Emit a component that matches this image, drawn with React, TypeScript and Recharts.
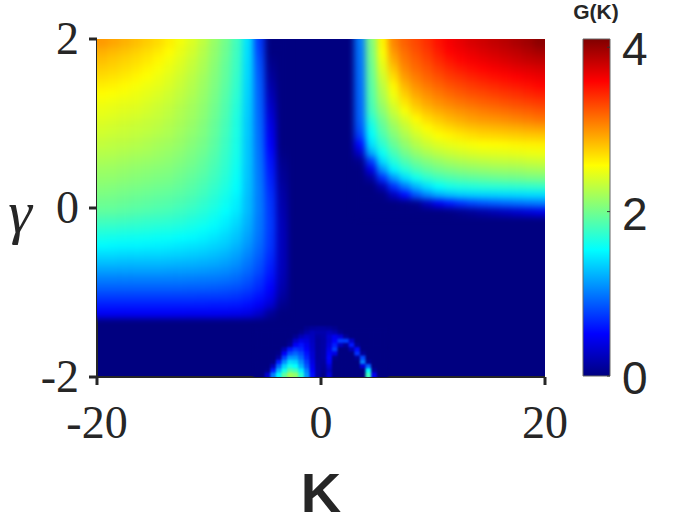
import React from 'react';
import { ScatterChart, Scatter, XAxis, YAxis, CartesianGrid, BarChart, Bar } from 'recharts';

const xTicks = [-20, 0, 20];
const yTicks = [-2, 0, 2];
const barTicks = [0, 2, 4];
const G_MAX = 4.1;

const coarseGammas = [1.95,1.85,1.75,1.65,1.55,1.45,1.35,1.25,1.15,1.05,.95,.85,.75,.65,.55,.45,.35,.25,.15,.05,-.05,-.15,-.25,-.35,-.45,-.55,-.65,-.75,-.85,-.95,-1.05,-1.15,-1.25];
const leftKs = [-19.5,-18.5,-17.5,-16.5,-15.5,-14.5,-13.5,-12.5,-11.5,-10.5,-9.5,-8.5,-7.5,-6.5,-5.5,-4.5,-3.5];
const rightKs = [3.5,4.5,5.5,6.5,7.5,8.5,9.5,10.5,11.5,12.5,13.5,14.5,15.5,16.5,17.5,18.5,19.5];

const leftBlock = [
[2.97,2.92,2.87,2.82,2.76,2.70,2.62,2.52,2.42,2.30,2.15,2.00,1.80,1.42,.75,0,0],
[2.88,2.84,2.80,2.75,2.70,2.64,2.57,2.48,2.39,2.27,2.13,1.98,1.79,1.41,.78,0,0],
[2.82,2.78,2.74,2.70,2.65,2.59,2.52,2.44,2.35,2.24,2.11,1.96,1.78,1.40,.82,.04,0],
[2.76,2.73,2.69,2.65,2.60,2.54,2.48,2.41,2.32,2.22,2.09,1.94,1.77,1.39,.85,.08,0],
[2.70,2.67,2.64,2.60,2.55,2.50,2.44,2.37,2.29,2.19,2.07,1.93,1.75,1.38,.87,.12,0],
[2.63,2.61,2.58,2.54,2.50,2.46,2.41,2.34,2.26,2.17,2.05,1.91,1.74,1.37,.89,.17,0],
[2.57,2.55,2.53,2.50,2.46,2.42,2.37,2.31,2.24,2.15,2.03,1.89,1.72,1.36,.90,.22,0],
[2.52,2.50,2.48,2.46,2.42,2.38,2.34,2.28,2.21,2.13,2.01,1.87,1.70,1.35,.91,.27,0],
[2.48,2.46,2.44,2.42,2.39,2.35,2.31,2.25,2.19,2.11,1.99,1.86,1.68,1.34,.92,.32,0],
[2.44,2.42,2.40,2.38,2.35,2.32,2.28,2.23,2.17,2.09,1.97,1.84,1.66,1.33,.93,.37,0],
[2.40,2.38,2.36,2.34,2.32,2.29,2.25,2.20,2.14,2.06,1.95,1.82,1.65,1.32,.94,.42,0],
[2.36,2.34,2.33,2.31,2.28,2.25,2.22,2.17,2.11,2.04,1.93,1.80,1.64,1.32,.95,.46,0],
[2.32,2.30,2.29,2.27,2.24,2.21,2.18,2.14,2.08,2.01,1.91,1.78,1.63,1.31,.96,.50,0],
[2.27,2.26,2.24,2.22,2.20,2.17,2.14,2.10,2.04,1.98,1.88,1.76,1.62,1.31,.97,.54,.02],
[2.22,2.21,2.19,2.17,2.15,2.13,2.10,2.06,2.01,1.94,1.85,1.74,1.60,1.31,.98,.58,.05],
[2.17,2.16,2.14,2.12,2.10,2.08,2.06,2.02,1.97,1.91,1.82,1.72,1.58,1.30,.99,.61,.08],
[2.13,2.12,2.10,2.08,2.06,2.04,2.02,1.98,1.93,1.87,1.79,1.69,1.56,1.30,1.00,.64,.10],
[2.08,2.07,2.05,2.03,2.01,1.99,1.97,1.94,1.89,1.83,1.75,1.66,1.54,1.29,1.01,.67,.13],
[2.03,2.02,2.00,1.98,1.96,1.94,1.92,1.89,1.85,1.79,1.71,1.62,1.51,1.28,1.01,.70,.16],
[1.98,1.97,1.95,1.93,1.91,1.89,1.87,1.84,1.80,1.74,1.67,1.58,1.48,1.27,1.01,.72,.18],
[1.92,1.91,1.89,1.87,1.85,1.83,1.81,1.78,1.74,1.69,1.62,1.54,1.45,1.26,1.01,.73,.20],
[1.82,1.81,1.80,1.78,1.76,1.75,1.73,1.71,1.67,1.63,1.57,1.49,1.40,1.23,1.00,.74,.22],
[1.72,1.71,1.70,1.69,1.68,1.66,1.65,1.63,1.60,1.56,1.51,1.44,1.35,1.20,.99,.74,.23],
[1.62,1.61,1.60,1.59,1.58,1.57,1.56,1.54,1.52,1.49,1.44,1.38,1.30,1.16,.97,.73,.24],
[1.52,1.51,1.50,1.50,1.49,1.48,1.47,1.45,1.43,1.41,1.37,1.32,1.24,1.11,.94,.72,.24],
[1.40,1.40,1.39,1.39,1.38,1.38,1.37,1.36,1.34,1.32,1.29,1.24,1.17,1.05,.90,.69,.24],
[1.28,1.28,1.27,1.27,1.27,1.27,1.26,1.25,1.24,1.22,1.20,1.16,1.10,.99,.85,.65,.24],
[1.15,1.15,1.15,1.15,1.15,1.15,1.14,1.14,1.13,1.12,1.10,1.07,1.02,.93,.80,.61,.23],
[1.02,1.02,1.02,1.02,1.02,1.02,1.02,1.02,1.01,1.00,.99,.97,.93,.85,.73,.56,.21],
[.90,.90,.90,.90,.90,.90,.90,.90,.89,.89,.88,.86,.83,.77,.67,.51,.18],
[.76,.76,.76,.76,.76,.76,.76,.76,.76,.75,.75,.74,.72,.67,.58,.44,.13],
[.62,.62,.62,.62,.62,.62,.62,.62,.62,.62,.61,.61,.60,.56,.48,.33,.06],
[.48,.48,.48,.48,.48,.48,.48,.48,.47,.47,.47,.46,.45,.41,.30,.10,0],
];

const rightBlock = [
[1.00,2.05,2.60,3.05,3.20,3.30,3.40,3.52,3.62,3.68,3.74,3.78,3.83,3.87,3.92,3.97,4.05],
[.98,2.02,2.55,2.98,3.15,3.26,3.36,3.48,3.58,3.63,3.68,3.73,3.77,3.81,3.85,3.90,3.95],
[.97,1.99,2.50,2.90,3.10,3.21,3.31,3.42,3.51,3.57,3.62,3.66,3.70,3.74,3.78,3.82,3.85],
[.96,1.96,2.44,2.80,3.04,3.16,3.25,3.35,3.43,3.49,3.54,3.58,3.62,3.65,3.69,3.72,3.75],
[.95,1.93,2.37,2.70,2.96,3.09,3.19,3.27,3.35,3.40,3.45,3.49,3.53,3.56,3.59,3.63,3.66],
[.94,1.90,2.30,2.60,2.86,3.01,3.11,3.19,3.26,3.31,3.36,3.40,3.43,3.47,3.50,3.53,3.57],
[.93,1.87,2.24,2.52,2.76,2.92,3.02,3.10,3.17,3.22,3.27,3.30,3.34,3.37,3.40,3.44,3.47],
[.92,1.84,2.18,2.44,2.66,2.82,2.93,3.01,3.07,3.12,3.16,3.20,3.23,3.27,3.30,3.33,3.36],
[.91,1.80,2.10,2.35,2.54,2.71,2.82,2.90,2.96,3.01,3.05,3.09,3.12,3.15,3.18,3.21,3.24],
[.90,1.70,2.00,2.25,2.42,2.58,2.70,2.78,2.85,2.90,2.95,2.98,3.00,3.03,3.06,3.09,3.12],
[.85,1.60,1.92,2.15,2.32,2.47,2.58,2.66,2.72,2.77,2.81,2.84,2.86,2.88,2.90,2.93,2.95],
[.75,1.52,1.83,2.05,2.22,2.36,2.47,2.55,2.60,2.64,2.68,2.71,2.72,2.74,2.75,2.77,2.78],
[.55,1.42,1.72,1.95,2.12,2.26,2.36,2.43,2.48,2.51,2.54,2.56,2.57,2.58,2.60,2.61,2.62],
[.30,1.20,1.58,1.82,2.00,2.13,2.23,2.30,2.35,2.39,2.42,2.44,2.45,2.46,2.48,2.49,2.50],
[.05,.75,1.40,1.68,1.85,1.98,2.07,2.14,2.20,2.24,2.27,2.29,2.31,2.32,2.33,2.35,2.36],
[0,.40,1.10,1.48,1.68,1.82,1.92,1.99,2.04,2.08,2.11,2.13,2.15,2.16,2.17,2.19,2.20],
[0,.12,.70,1.12,1.40,1.60,1.72,1.80,1.85,1.89,1.92,1.94,1.96,1.98,1.99,2.01,2.02],
[0,0,.20,.70,1.00,1.25,1.42,1.55,1.62,1.66,1.68,1.70,1.71,1.72,1.73,1.74,1.75],
[0,0,.02,.25,.55,.85,1.05,1.20,1.28,1.33,1.35,1.36,1.37,1.38,1.39,1.40,1.40],
[0,0,0,0,.02,.05,.25,.45,.60,.70,.78,.84,.88,.92,.95,.98,1.00],
[0,0,0,0,0,0,0,0,.02,.06,.10,.15,.20,.25,.30,.35,.40],
];

const domeGammas = [-1.425,-1.475,-1.525,-1.575,-1.625,-1.675,-1.725,-1.775,-1.825,-1.875,-1.925,-1.975];
const domeKs = [-5.75,-5.25,-4.75,-4.25,-3.75,-3.25,-2.75,-2.25,-1.75,-1.25,-.75,-.25,.25,.75,1.25,1.75,2.25,2.75,3.25,3.75,4.25,4.75,5.25,5.75];
const domeBlock = [
[0,0,0,0,0,0,0,0,0,.06,.10,.12,.12,.10,.06,0,0,0,0,0,0,0,0,0],
[0,0,0,0,0,0,0,0,.06,.15,.22,.18,.18,.24,.18,.06,0,0,0,0,0,0,0,0],
[0,0,0,0,0,0,0,.08,.22,.30,.24,.14,.16,.32,.45,.35,.10,0,0,0,0,0,0,0],
[0,0,0,0,0,0,.04,.28,.42,.38,.26,.12,.15,.32,.50,.75,.75,.30,0,0,0,0,0,0],
[0,0,0,0,0,0,.10,.48,.58,.44,.28,.12,.15,.36,.62,.25,.10,.60,.08,0,0,0,0,0],
[0,0,0,0,0,.20,.58,.72,.66,.50,.30,.12,.15,.42,.75,0,0,.20,.55,0,0,0,0,0],
[0,0,0,0,.04,.48,.82,.92,.80,.58,.33,.12,.15,.48,.40,0,0,0,.70,.10,0,0,0,0],
[0,0,0,0,.16,.78,1.12,1.12,.92,.65,.35,.12,.15,.52,.05,0,0,0,.10,.80,0,0,0,0],
[0,0,0,.03,.62,1.08,1.40,1.36,1.08,.76,.40,.13,.12,.48,0,0,0,0,0,1.00,.10,0,0,0],
[0,0,0,.24,.92,1.36,1.62,1.54,1.22,.86,.45,.14,.10,.34,0,0,0,0,0,.35,.90,0,0,0],
[0,0,.04,.62,1.22,1.62,1.88,1.80,1.46,1.02,.50,.15,.08,.25,0,0,0,0,0,0,1.50,.10,0,0],
[0,0,.32,1.02,1.50,1.92,2.20,2.12,1.70,1.12,.56,.15,.03,.35,0,0,0,0,0,0,1.80,.45,0,0],
];

type Cell = { k: number; g: number; v: number };
const toCells = (matrix: number[][], gammas: number[], ks: number[]): Cell[] =>
  matrix.flatMap((row, i) => row.map((v, j) => ({ k: ks[j], g: gammas[i], v })));

const coarseCells = [...toCells(leftBlock, coarseGammas, leftKs), ...toCells(rightBlock, coarseGammas, rightKs)];
const domeCells = toCells(domeBlock, domeGammas, domeKs);

const clamp = (x: number) => Math.round(255 * Math.max(0, Math.min(1, x)));
const jet = (v: number) => {
  const t = v / G_MAX;
  return `rgb(${clamp(1.5 - Math.abs(4 * t - 3))},${clamp(1.5 - Math.abs(4 * t - 2))},${clamp(1.5 - Math.abs(4 * t - 1))})`;
};

const PX_K = 448 / 40;
const PX_G = 338 / 4;
const makeShape = (dk: number, dg: number) => (p: any) => {
  const w = dk * PX_K;
  const h = dg * PX_G;
  const { k, g, v } = p.payload;
  const padL = k - dk / 2 <= -20 ? 14 : 0;
  const padR = k + dk / 2 >= 20 ? 14 : 0;
  const padT = g + dg / 2 >= 2 ? 14 : 0;
  const padB = g - dg / 2 <= -2 ? 14 : 0;
  return (
    <rect x={p.cx - w / 2 - padL - 0.3} y={p.cy - h / 2 - padT - 0.3} width={w + padL + padR + 0.6} height={h + padT + padB + 0.6} fill={jet(v)} />
  );
};

const jetStops = [
  { o: 0, c: '#000080' }, { o: 0.125, c: '#0000ff' }, { o: 0.375, c: '#00ffff' }, { o: 0.625, c: '#ffff00' }, { o: 0.875, c: '#ff0000' }, { o: 1, c: '#800000' },
];

const SERIF = "'Liberation Serif', serif";
const SANS = "'Liberation Sans', sans-serif";
const INK = '#262626';

const XTick = (p: any) => (
  <text x={p.x} y={438} textAnchor="middle" fontFamily={SERIF} fontSize={46} fill={INK}>{p.payload.value}</text>
);
const YTick = (p: any) => (
  <text x={79} y={p.y + 15} textAnchor="end" fontFamily={SERIF} fontSize={46} fill={INK}>{p.payload.value}</text>
);
const BarTick = (p: any) => (
  <text x={62} y={p.y + 18} textAnchor="start" fontFamily={SANS} fontSize={46} fill={INK}>{p.payload.value}</text>
);

export default function App() {
  return (
    <div style={{ position: 'absolute', left: 0, top: 0, width: 700, height: 525, background: '#fff' }}>
      <style>{`.coarse-layer{filter:blur(3px)} .dome-layer{filter:blur(1px)}`}</style>
      <div style={{ position: 'absolute', left: 0, top: 0 }}>
        <ScatterChart width={700} height={525} margin={{ top: 39, right: 155, bottom: 0, left: 0 }}>
          <CartesianGrid horizontal={false} vertical={false} fill="#000080" />
          <XAxis
            type="number"
            dataKey="k"
            domain={[-20, 20]}
            ticks={xTicks}
            height={148}
            allowDataOverflow
            tick={XTick}
            tickSize={8}
            tickLine={{ stroke: INK, strokeWidth: 3 }}
            axisLine={{ stroke: INK, strokeWidth: 2 }}
            label={{
              value: 'K',
              content: () => (
                <text x={321} y={512} textAnchor="middle" fontFamily={SANS} fontWeight="bold" fontSize={56} fill={INK}>K</text>
              ),
            }}
          />
          <YAxis
            type="number"
            dataKey="g"
            domain={[-2, 2]}
            ticks={yTicks}
            width={97}
            allowDataOverflow
            tick={YTick}
            tickSize={8}
            tickLine={{ stroke: INK, strokeWidth: 3 }}
            axisLine={{ stroke: INK, strokeWidth: 2 }}
            label={{
              value: 'γ',
              content: () => (
                <text x={20} y={232} textAnchor="middle" fontFamily={SERIF} fontStyle="italic" fontSize={60} fill={INK}>γ</text>
              ),
            }}
          />
          <Scatter className="coarse-layer" data={coarseCells} shape={makeShape(1, 0.1)} isAnimationActive={false} />
          <Scatter className="dome-layer" data={domeCells} shape={makeShape(0.5, 0.05)} isAnimationActive={false} />
        </ScatterChart>
      </div>
      <div style={{ position: 'absolute', left: 560, top: 0 }}>
        <BarChart width={140} height={525} data={[{ name: 'G(K)', v: G_MAX }]} margin={{ top: 39, right: 0, bottom: 149, left: 23 }} barCategoryGap={0}>
          <defs>
            <linearGradient id="jetBar" x1="0" y1="1" x2="0" y2="0">
              {jetStops.map((s) => <stop key={s.o} offset={s.o} stopColor={s.c} />)}
            </linearGradient>
          </defs>
          <XAxis dataKey="name" hide />
          <YAxis
            orientation="right"
            type="number"
            domain={[0, G_MAX]}
            ticks={barTicks}
            width={90}
            tick={BarTick}
            tickSize={-3}
            tickLine={{ stroke: '#333', strokeWidth: 1 }}
            axisLine={false}
            label={{
              value: 'G(K)',
              content: () => (
                <text x={36} y={19} textAnchor="middle" fontFamily={SANS} fontWeight="bold" fontSize={21} fill={INK}>G(K)</text>
              ),
            }}
          />
          <Bar dataKey="v" fill="url(#jetBar)" stroke="#666" strokeWidth={1} isAnimationActive={false} />
        </BarChart>
      </div>
    </div>
  );
}
